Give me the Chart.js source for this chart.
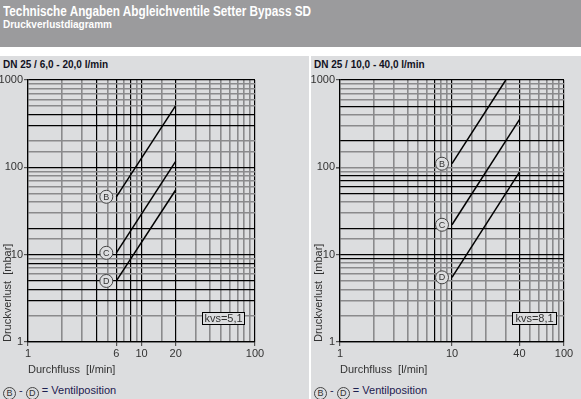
<!DOCTYPE html>
<html lang="de">
<head>
<meta charset="UTF-8" />
<title>Setter Bypass SD - Druckverlustdiagramm</title>
<script src="https://cdn.jsdelivr.net/npm/chart.js"></script>
<style>
  body { margin: 0; width: 581px; height: 399px; overflow: hidden; position: relative; background: #fff;
         font-family: "Liberation Sans", Arial, sans-serif; }
  .header { position: absolute; left: 0; top: 0; width: 581px; height: 47px; background: #9b9b9d; color: #fff; }
  .header h1 { position: absolute; left: 3px; top: 3px; margin: 0; font-size: 14px; font-weight: bold; white-space: nowrap;
               transform: scaleX(0.84); transform-origin: left top; }
  .header h2 { position: absolute; left: 3px; top: 19px; margin: 0; font-size: 10px; font-weight: bold; }
  .panel { position: absolute; top: 56px; height: 343px; background: #dcdddf; }
  .panel h3 { position: absolute; left: 3px; top: 3px; margin: 0; font-size: 10px; font-weight: bold; color: #111122; }
  .panel canvas { position: absolute; left: 0; top: 14px; }
  .legend { position: absolute; left: 3px; top: 328px; font-size: 11px; color: #1c2050; white-space: nowrap; }
  .circ { display: inline-block; width: 11px; height: 11px; border: 1px solid #444; border-radius: 50%;
          font-size: 9px; line-height: 11px; text-align: center; color: #333; vertical-align: -2px; }
</style>
</head>
<body>
<div class="header">
  <h1>Technische Angaben Abgleichventile Setter Bypass SD</h1>
  <h2>Druckverlustdiagramm</h2>
</div>

<div class="panel" style="left:0; width:309px;">
  <h3>DN 25 / 6,0 - 20,0 l/min</h3>
  <canvas id="chartLeft" width="309" height="310"></canvas>
  <div class="legend"><span class="circ">B</span> - <span class="circ">D</span> = Ventilposition</div>
</div>

<div class="panel" style="left:311px; width:270px;">
  <h3>DN 25 / 10,0 - 40,0 l/min</h3>
  <canvas id="chartRight" width="270" height="310"></canvas>
  <div class="legend"><span class="circ">B</span> - <span class="circ">D</span> = Ventilposition</div>
</div>

<script>
// valve positions
var positions = ["B", "C", "D"];

// DN 25 / 6,0 - 20,0 l/min, kvs 5,1
var flowLeft = [6, 20];
var bLeft = [46, 510];
var cLeft = [10.5, 117];
var dLeft = [5, 55];
var xLabelsLeft = [1, 6, 10, 20, 100];
var xStrongLeft = [1, 4, 6, 8, 10, 20, 100];
var yStrongLeft = [1, 3, 4, 5, 8, 10, 20, 100, 300, 400, 1000];

// DN 25 / 10,0 - 40,0 l/min, kvs 8,1 (B leaves the chart at 1000 mbar)
var flowRight = [10, 40];
var flowRightB = [10, 30.2];
var bRight = [110, 1000];
var cRight = [22, 352];
var dRight = [5.5, 88];
var xLabelsRight = [1, 10, 40, 100];
var xStrongRight = [1, 7, 10, 40, 100];
var yStrongRight = [1, 9, 10, 20, 50, 60, 70, 80, 200, 500, 1000];

var yLabels = [1, 10, 100, 1000];

var bg = "#dcdddf";

function pts(xs, ys) {
  return xs.map(function (x, i) { return { x: x, y: ys[i] }; });
}

// circled letters left of each line start, plus the kvs box
var markPlugin = {
  id: "marks",
  afterDatasetsDraw: function (chart, args, opts) {
    var ctx = chart.ctx;
    var xs = chart.scales.x, ys = chart.scales.y;
    ctx.save();
    chart.data.datasets.forEach(function (ds, i) {
      var p = ds.data[0];
      var cx = xs.getPixelForValue(p.x) - 10;
      var cy = ys.getPixelForValue(p.y);
      ctx.beginPath();
      ctx.arc(cx, cy, 6.5, 0, Math.PI * 2);
      ctx.fillStyle = bg;
      ctx.fill();
      ctx.lineWidth = 1;
      ctx.strokeStyle = "#444";
      ctx.stroke();
      ctx.fillStyle = "#333";
      ctx.font = "9px 'Liberation Sans', Arial, sans-serif";
      ctx.textAlign = "center";
      ctx.textBaseline = "middle";
      ctx.fillText(positions[i], cx, cy + 0.5);
    });
    var a = chart.chartArea;
    var w = opts.boxWidth, h = 12;
    var bx = a.right - opts.boxRight - w, by = a.bottom - 18 - h;
    ctx.fillStyle = bg;
    ctx.fillRect(bx, by, w, h);
    ctx.strokeStyle = "#000";
    ctx.strokeRect(bx + 0.5, by + 0.5, w, h);
    ctx.fillStyle = "#333";
    ctx.font = "11px 'Liberation Sans', Arial, sans-serif";
    ctx.textAlign = "center";
    ctx.textBaseline = "middle";
    ctx.fillText(opts.text, bx + w / 2 + 0.5, by + h / 2 + 1);
    ctx.restore();
  }
};

function makeChart(id, series, xLabels, xStrong, yStrong, kvs, pad, yWidth) {
  var lineDs = series.map(function (s) {
    return { data: s, borderColor: "#000", borderWidth: 1.5, pointRadius: 0, fill: false };
  });
  function gridColor(strong) {
    return function (c) { return strong.indexOf(c.tick.value) >= 0 ? "#000" : "#8a8a8c"; };
  }
  function gridWidth(strong) {
    return function (c) { return strong.indexOf(c.tick.value) >= 0 ? 1.2 : 1.6; };
  }
  function tickColor(labels) {
    return function (c) { return labels.indexOf(c.tick.value) >= 0 ? "#555" : "rgba(0,0,0,0)"; };
  }
  return new Chart(document.getElementById(id), {
    type: "line",
    data: { datasets: lineDs },
    options: {
      responsive: false,
      animation: false,
      layout: { padding: pad },
      plugins: { legend: { display: false }, tooltip: { enabled: false }, marks: kvs },
      scales: {
        x: {
          type: "logarithmic", min: 1, max: 100,
          afterFit: function (s) { s.height = 38; },
          border: { color: "#000", width: 1.2 },
          grid: { color: gridColor(xStrong), lineWidth: gridWidth(xStrong), tickColor: tickColor(xLabels), tickLength: 4 },
          ticks: {
            autoSkip: false, maxRotation: 0, padding: 1, color: "#333",
            font: { family: "'Liberation Sans', Arial, sans-serif", size: 11 },
            callback: function (v) { return xLabels.indexOf(v) >= 0 ? String(v) : ""; }
          },
          title: {
            display: true, text: "Durchfluss  [l/min]", align: "start", color: "#333",
            font: { family: "'Liberation Sans', Arial, sans-serif", size: 11 }, padding: { top: 0, bottom: 3 }
          }
        },
        y: {
          type: "logarithmic", min: 1, max: 1000,
          afterFit: function (s) { s.width = yWidth; },
          border: { color: "#000", width: 1.2 },
          grid: { color: gridColor(yStrong), lineWidth: gridWidth(yStrong), tickColor: tickColor(yLabels), tickLength: 4 },
          ticks: {
            autoSkip: false, padding: 1, color: "#333",
            font: { family: "'Liberation Sans', Arial, sans-serif", size: 11 },
            callback: function (v) { return yLabels.indexOf(v) >= 0 ? String(v) : ""; }
          },
          title: {
            display: true, text: "Druckverlust  [mbar]", align: "start", color: "#333",
            font: { family: "'Liberation Sans', Arial, sans-serif", size: 11 }, padding: { top: 1, bottom: 0 }
          }
        }
      }
    },
    plugins: [markPlugin]
  });
}

makeChart("chartLeft",
  [pts(flowLeft, bLeft), pts(flowLeft, cLeft), pts(flowLeft, dLeft)],
  xLabelsLeft, xStrongLeft, yStrongLeft,
  { text: "kvs=5,1", boxWidth: 42, boxRight: 11 },
  { top: 10, right: 54, left: 0, bottom: 0 }, 28);

makeChart("chartRight",
  [pts(flowRightB, bRight), pts(flowRight, cRight), pts(flowRight, dRight)],
  xLabelsRight, xStrongRight, yStrongRight,
  { text: "kvs=8,1", boxWidth: 44, boxRight: 8 },
  { top: 10, right: 17, left: 0, bottom: 0 }, 29);
</script>
</body>
</html>
